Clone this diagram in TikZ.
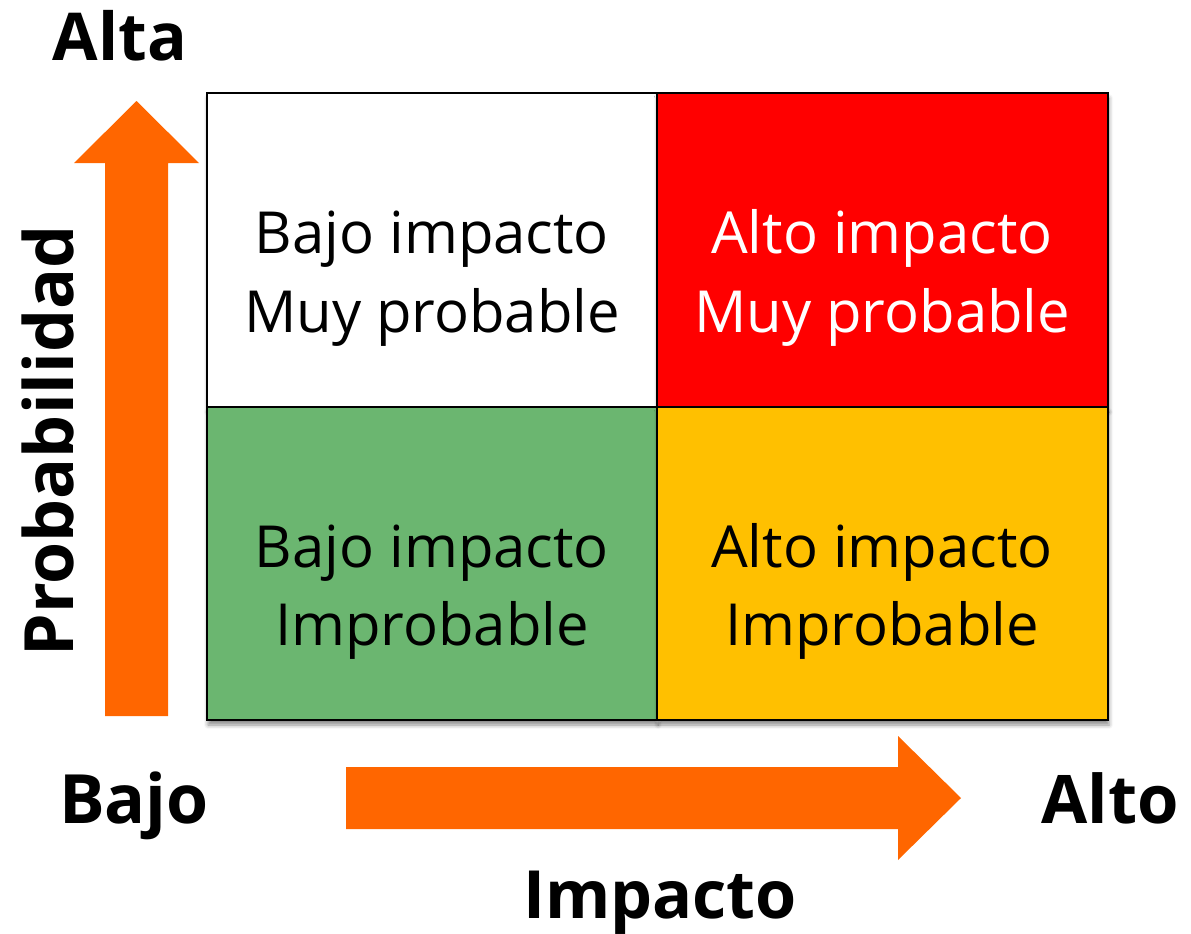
\documentclass[tikz,border=0pt]{standalone}
\usepackage{fontspec}
\setmainfont{Open Sans}
\usetikzlibrary{shadows.blur}
\definecolor{arrorange}{HTML}{FF6600}
\definecolor{cellred}{HTML}{FF0000}
\definecolor{cellgreen}{HTML}{6BB670}
\definecolor{cellyellow}{HTML}{FFC000}
\tikzset{
  cell/.style={draw=black, line width=1.2pt,
    blur shadow={shadow xshift=1pt, shadow yshift=-5pt, shadow blur radius=4pt, shadow opacity=45}},
  celltext/.style={anchor=base, inner sep=0pt, font=\fontsize{58}{68}\selectfont},
  axistext/.style={anchor=base, inner sep=0pt, font=\fontsize{66}{78}\selectfont\bfseries},
  bigarrow/.style={fill=arrorange, draw=none}
}
\begin{document}
\begin{tikzpicture}[x=1pt,y=-1pt]
\useasboundingbox (0,0) rectangle (1191,934);
% cells
\path[cell, fill=white] (207,93) rectangle (657,407);
\path[cell, fill=cellred] (657,93) rectangle (1108,407);
\path[cell, fill=cellgreen] (207,407) rectangle (657,720);
\path[cell, fill=cellyellow] (657,407) rectangle (1108,720);
% cell texts
\node[celltext] (tl1) at (432,253) {Bajo impacto};
\node[celltext] (tl2) at (432,332) {Muy probable};
\node[celltext, text=white] (tr1) at (882,253) {Alto impacto};
\node[celltext, text=white] (tr2) at (882,332) {Muy probable};
\node[celltext] (bl1) at (432,567) {Bajo impacto};
\node[celltext] (bl2) at (432,645) {Improbable};
\node[celltext] (br1) at (882,567) {Alto impacto};
\node[celltext] (br2) at (882,645) {Improbable};
% arrows
\path[bigarrow] (105,716) -- (105,163) -- (74,163) -- (136.5,101) -- (199,163) -- (168,163) -- (168,716) -- cycle;
\path[bigarrow] (346,767) -- (898,767) -- (898,736) -- (961,798) -- (898,860) -- (898,829) -- (346,829) -- cycle;
% axis labels
\node[axistext] (alta) at (120,60) {Alta};
\node[axistext, font=\fontsize{68}{80}\selectfont\bfseries] (bajo) at (134,823) {Bajo};
\node[axistext, font=\fontsize{67}{80}\selectfont\bfseries] (alto) at (1110,823) {Alto};
\node[axistext, font=\fontsize{66.5}{80}\selectfont\bfseries] (impacto) at (660,918) {Impacto};
\node[axistext, rotate=90, font=\fontsize{68}{80}\selectfont\bfseries] (prob) at (73,441) {Probabilidad};
\end{tikzpicture}
\end{document}
